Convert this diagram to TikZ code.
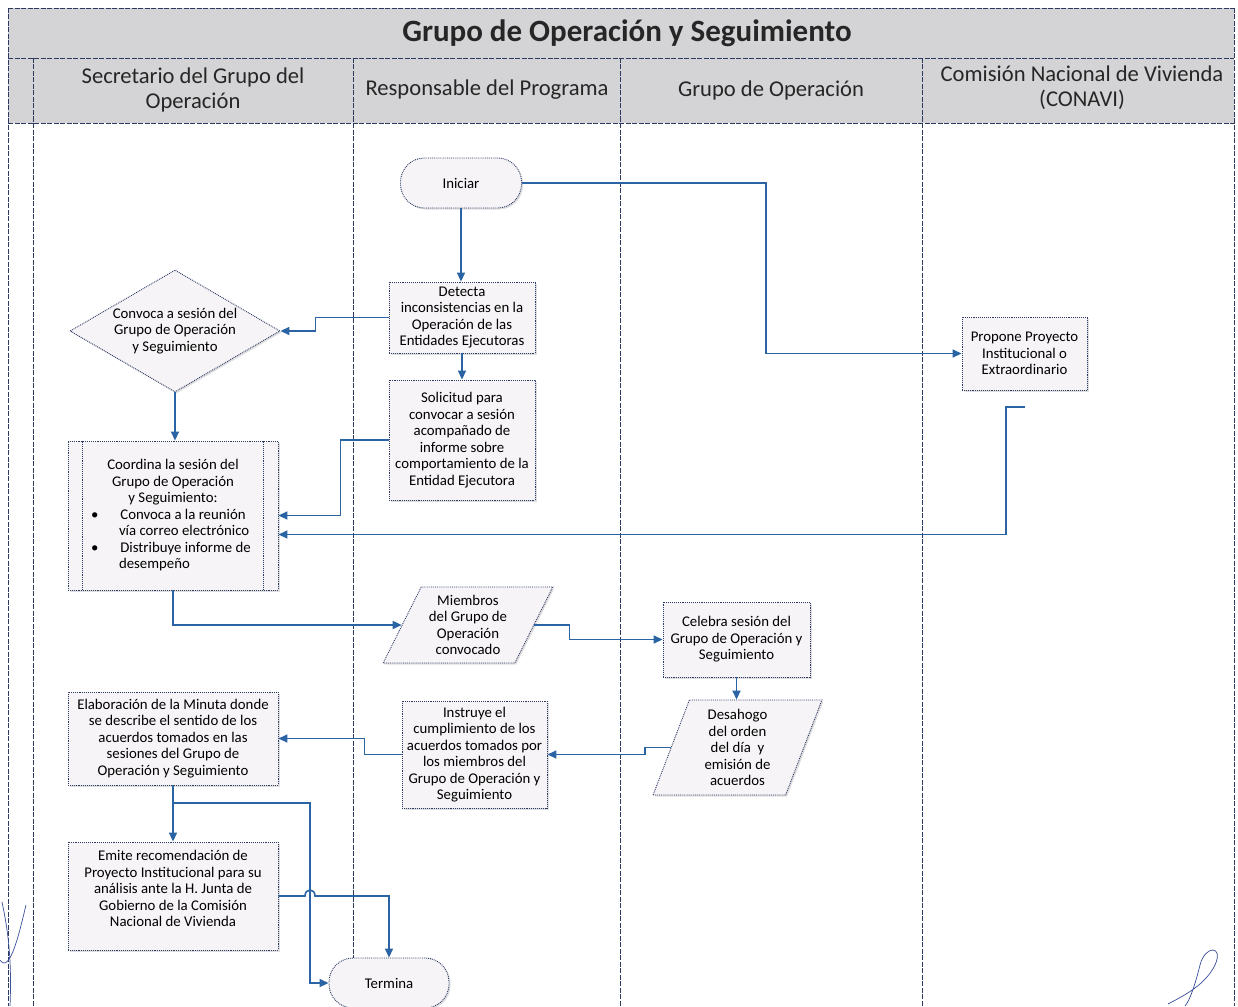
\documentclass[tikz,border=0pt]{standalone}
\usepackage{fontspec}
\setmainfont{Carlito}
\usetikzlibrary{shapes.geometric,arrows.meta,shadows,calc}
\definecolor{hdr}{HTML}{D4D4D6}
\definecolor{flowc}{HTML}{2A64A4}
\definecolor{boxd}{HTML}{2C3A66}
\definecolor{boxf}{HTML}{F6F4F6}
\definecolor{lanec}{HTML}{2B3A5E}
\definecolor{sig}{HTML}{3A4E9A}
\begin{document}
\begin{tikzpicture}[x=1pt,y=-1pt,
  box/.style={draw=boxd, densely dotted, line width=0.9pt, fill=boxf, align=center,
    inner sep=0pt, font=\fontsize{14.8}{16.5}\selectfont,
    drop shadow={shadow xshift=1.5pt,shadow yshift=-1.5pt,opacity=0.25,fill=gray}},
  termbox/.style={box, rounded corners=24pt, minimum width=121, minimum height=50},
  para/.style={box, trapezium, trapezium stretches=true},
  flow/.style={draw=flowc, line width=1.6pt, -{Triangle[length=9pt,width=8pt]}},
  lane/.style={draw=lanec, line width=0.8pt, dash pattern=on 5pt off 1.5pt},
  hdrtext/.style={align=center, font=\fontsize{22.6}{25}\selectfont, text=black!85}
]
\clip (0,0) rectangle (1238,1006);
\fill[white] (0,0) rectangle (1238,1006);
% header bands
\fill[hdr] (8,8) rectangle (1234,123);
\draw[lane] (8,8) -- (1234,8);
\draw[lane] (8,58) -- (1234,58);
\draw[lane] (8,123) -- (1234,123);
\draw[lane] (8,8) -- (8,1006);
\draw[lane] (1234,8) -- (1234,1006);
\draw[lane] (33,58) -- (33,1006);
\draw[lane] (353,58) -- (353,958);
\draw[lane] (620,58) -- (620,1006);
\draw[lane] (922,58) -- (922,1006);

\node[font=\fontsize{31}{36}\selectfont\bfseries, text=black!85] (title) at (627,33) {Grupo de Operación y Seguimiento};
\node[hdrtext] (h1) at (193,90) {Secretario del Grupo del\\Operación};
\node[hdrtext] (h2) at (487,90) {Responsable del Programa};
\node[hdrtext] (h3) at (771,90) {Grupo de Operación};
\node[hdrtext] (h4) at (1082,88) {Comisión Nacional de Vivienda\\(CONAVI)};

% nodes
\node[termbox] (ini) at (461,183) {Iniciar};
\node[box, minimum width=146, minimum height=71] (det) at (462,317.5) {Detecta\\inconsistencias en la\\Operación de las\\Entidades Ejecutoras};
\node[box, minimum width=146, minimum height=120] (sol) at (462,440) {Solicitud para\\convocar a sesión\\acompañado de\\informe sobre\\comportamiento de la\\Entidad Ejecutora};
\node[box, diamond, aspect=1.72, minimum width=210, minimum height=122, inner sep=-6pt] (conv) at (175,331) {Convoca a sesión del\\Grupo de Operación\\y Seguimiento};
\node[box, minimum width=210, minimum height=149, align=left] (coord) at (173,515.5)
  {\makebox[196pt][c]{Coordina la sesión del}\\
   \makebox[196pt][c]{Grupo de Operación}\\
   \makebox[196pt][c]{y Seguimiento:}\\
   \makebox[196pt][l]{\hspace{16pt}•\hspace{22pt}Convoca a la reunión}\\
   \makebox[196pt][l]{\hspace{44pt}vía correo electrónico}\\
   \makebox[196pt][l]{\hspace{16pt}•\hspace{22pt}Distribuye informe de}\\
   \makebox[196pt][l]{\hspace{44pt}desempeño}};
\draw[draw=boxd, densely dotted, line width=0.9pt] ([xshift=15pt]coord.north west) -- ([xshift=15pt]coord.south west);
\draw[draw=boxd, densely dotted, line width=0.9pt] ([xshift=-15pt]coord.north east) -- ([xshift=-15pt]coord.south east);
\node[box, minimum width=125, minimum height=73] (prop) at (1024.5,353.5) {Propone Proyecto\\Institucional o\\Extraordinario};
\node[para, trapezium left angle=62, trapezium right angle=118, minimum width=170, minimum height=76] (miem) at (468,625) {Miembros\\del Grupo de\\Operación\\convocado};
\node[box, minimum width=147, minimum height=75] (cel) at (736.5,639.5) {Celebra sesión del\\Grupo de Operación y\\Seguimiento};
\node[para, trapezium left angle=72, trapezium right angle=108, minimum width=169, minimum height=95] (des) at (737.5,747.5) {Desahogo\\del orden\\del día~ y\\emisión de\\acuerdos};
\node[box, minimum width=145, minimum height=107] (instr) at (474.5,754.5) {Instruye el\\cumplimiento de los\\acuerdos tomados por\\los miembros del\\Grupo de Operación y\\Seguimiento};
\node[box, minimum width=210, minimum height=93] (elab) at (173,738.5) {Elaboración de la Minuta donde\\se describe el sentido de los\\acuerdos tomados en las\\sesiones del Grupo de\\Operación y Seguimiento};
\node[box, minimum width=210, minimum height=108] (emite) at (173,896) {Emite recomendación de\\Proyecto Institucional para su\\análisis ante la H. Junta de\\Gobierno de la Comisión\\Nacional de Vivienda\\[-2pt]\mbox{}};
\node[termbox, minimum width=120] (term) at (389,983) {Termina};

% connectors
\draw[flow] (ini.south) -- (ini.south |- det.north);
\draw[flow] (ini.east) -- ++(244,0) |- (prop.west);
\draw[flow] (det.west) -- ++(-73,0) |- (conv.east);
\draw[flow] (det.south) -- (sol.north);
\draw[flow] (conv.south) -- (conv.south |- coord.north);
\draw[flow] (sol.west) -- ++(-48,0) |- (coord.east);
\coordinate (pstub) at (1025,407);
\draw[flow] (pstub) -- ++(-19,0) |- ([yshift=-19pt]coord.east);
\draw[flow] (coord.south) |- (miem.west);
\draw[flow] (miem.east) -- ++(35,0) |- (cel.west);
\draw[flow] (cel.south) -- (cel.south |- des.north);
\draw[flow] (des.west) -- ++(-26,0) |- (instr.east);
\draw[flow] (instr.west) -- ++(-37,0) |- (elab.east);
\draw[flow] (elab.south) -- (emite.north);
\path (elab.south) -- (emite.north) coordinate[pos=0.31] (br);
\draw[flow] (br) -- ++(137,0) |- (term.west);
\draw[flow] (emite.east) -- (305,896) .. controls (305,888) and (315,888) .. (315,896) -| (term.north);

% handwritten marks at the bottom corners
\draw[sig, line width=0.7pt] (2,902) .. controls (8,930) and (12,960) .. (10,1006);
\draw[sig, line width=0.7pt] (0,960) .. controls (10,975) and (20,930) .. (26,905);
\draw[sig, line width=0.7pt] (1168,1004) .. controls (1185,995) and (1205,985) .. (1215,965)
  .. controls (1224,945) and (1205,945) .. (1200,965) .. controls (1195,985) and (1190,1000) .. (1185,1006);
\end{tikzpicture}
\end{document}
